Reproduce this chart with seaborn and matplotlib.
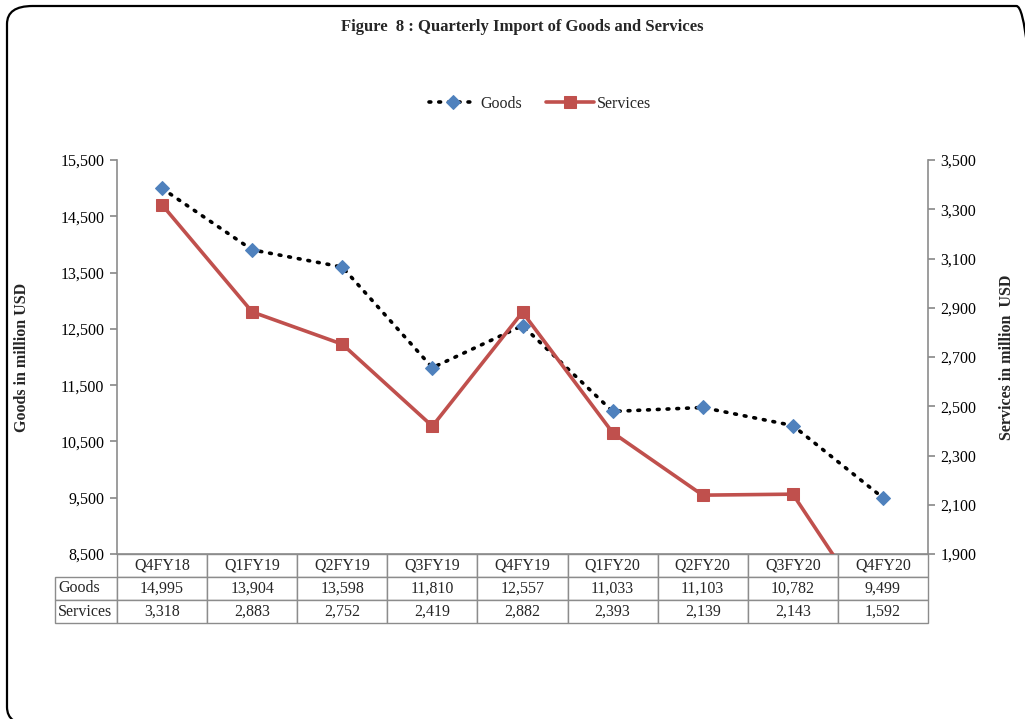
import matplotlib
matplotlib.use("Agg")
import matplotlib.pyplot as plt
import seaborn as sns
import pandas as pd
from matplotlib.table import Table
from matplotlib.patches import FancyBboxPatch
from matplotlib.ticker import FuncFormatter

quarters = ["Q4FY18", "Q1FY19", "Q2FY19", "Q3FY19", "Q4FY19",
            "Q1FY20", "Q2FY20", "Q3FY20", "Q4FY20"]
goods = [14995, 13904, 13598, 11810, 12557, 11033, 11103, 10782, 9499]
services = [3318, 2883, 2752, 2419, 2882, 2393, 2139, 2143, 1592]

goods_ticks = [8500, 9500, 10500, 11500, 12500, 13500, 14500, 15500]
services_ticks = [1900, 2100, 2300, 2500, 2700, 2900, 3100, 3300, 3500]

title = "Figure  8 : Quarterly Import of Goods and Services"
goods_label = "Goods"
services_label = "Services"

sns.set_theme(style="white")
plt.rcParams["font.family"] = ["Liberation Serif", "DejaVu Serif"]

W, H = 1025, 719
fig = plt.figure(figsize=(W / 100, H / 100), dpi=100)

# rounded border (extends past right and bottom edges as in the reference)
fig.patches.append(FancyBboxPatch((7 / W, (H - 725) / H), (1042 - 7) / W, (725 - 6) / H,
                                  boxstyle="round,pad=0,rounding_size=0.025",
                                  transform=fig.transFigure, fill=False,
                                  edgecolor="black", linewidth=1.6, zorder=0))

L, R, T, B = 117, 928, 160, 554
ax = fig.add_axes([L / W, 1 - B / H, (R - L) / W, (B - T) / H])
ax2 = ax.twinx()

df = pd.DataFrame({"x": range(len(quarters)), "goods": goods, "services": services})

grey = "#8C8C8C"
sns.lineplot(data=df, x="x", y="goods", ax=ax, color="black", linewidth=2.6,
             linestyle=(0, (0.5, 2.2)), dash_capstyle="round",
             marker="D", markersize=7, markerfacecolor="#4F81BD",
             markeredgecolor="#4F81BD", label=goods_label, legend=False)
sns.lineplot(data=df, x="x", y="services", ax=ax2, color="#C0504D", linewidth=2.6,
             marker="s", markersize=8.5, markerfacecolor="#C0504D",
             markeredgecolor="#C0504D", label=services_label, legend=False)

ax.set_xlim(-0.5, len(quarters) - 0.5)
ax.set_ylim(goods_ticks[0], goods_ticks[-1])
ax2.set_ylim(services_ticks[0], services_ticks[-1])
ax.set_yticks(goods_ticks)
ax2.set_yticks(services_ticks)
fmt = FuncFormatter(lambda v, p: f"{int(round(v)):,}")
ax.yaxis.set_major_formatter(fmt)
ax2.yaxis.set_major_formatter(fmt)
ax.set_xticks([])
ax.set_xlabel("")

for a in (ax, ax2):
    for s in a.spines.values():
        s.set_visible(False)
    a.grid(False)
    a.set_facecolor("none")
for a, side in ((ax, "left"), (ax2, "right"), (ax, "bottom")):
    a.spines[side].set_visible(True)
    a.spines[side].set_color(grey)
    a.spines[side].set_linewidth(1.2)

ax.tick_params(axis="y", left=True, direction="out", length=5, color=grey,
               labelsize=11.5, pad=4, labelcolor="black")
ax2.tick_params(axis="y", right=True, direction="out", length=5, color=grey,
                labelsize=11.5, pad=4, labelcolor="black")

ax.set_ylabel("Goods in million USD", fontsize=11.5, fontweight="bold")
ax.yaxis.set_label_coords(-0.107, 0.5)
ax2.set_ylabel("Services in million  USD", fontsize=11.5, fontweight="bold",
               rotation=90)
ax2.yaxis.set_label_coords(1.088, 0.5)

# data table below the plot area
n = len(quarters)
tb = Table(ax, bbox=[(55 - L) / (R - L), -(623 - B) / (B - T),
                     (R - 55) / (R - L), (623 - B) / (B - T)])
lw_col = (L - 55) / (R - L)
cw = 1 / n
rows = [("", quarters),
        (goods_label, [f"{v:,}" for v in goods]),
        (services_label, [f"{v:,}" for v in services])]
for r, (lab, vals) in enumerate(rows):
    c0 = tb.add_cell(r, 0, lw_col, 1, text=lab, loc="left")
    if r == 0:
        c0.visible_edges = "open"
    for c, v in enumerate(vals, start=1):
        tb.add_cell(r, c, cw, 1, text=v, loc="center")
tb.auto_set_font_size(False)
tb.set_fontsize(11.5)
for (r, c), cell in tb.get_celld().items():
    cell.set_edgecolor(grey)
    cell.set_linewidth(1.0)
    cell.PAD = 0.05
    cell.get_text().set_fontfamily(["Liberation Serif", "DejaVu Serif"])
tb.set_clip_on(False)
ax.add_table(tb)

fig.text(522 / W, 1 - 27 / H, title, ha="center", va="center",
         fontsize=12, fontweight="bold")

h1, l1 = ax.get_legend_handles_labels()
h2, l2 = ax2.get_legend_handles_labels()
fig.legend(h1 + h2, l1 + l2, loc="center", bbox_to_anchor=(540 / W, 1 - 104 / H),
           ncol=2, frameon=False, fontsize=11.5, handlelength=3.0,
           columnspacing=1.5, handletextpad=0.2)

fig.savefig("out.png", dpi=100)
